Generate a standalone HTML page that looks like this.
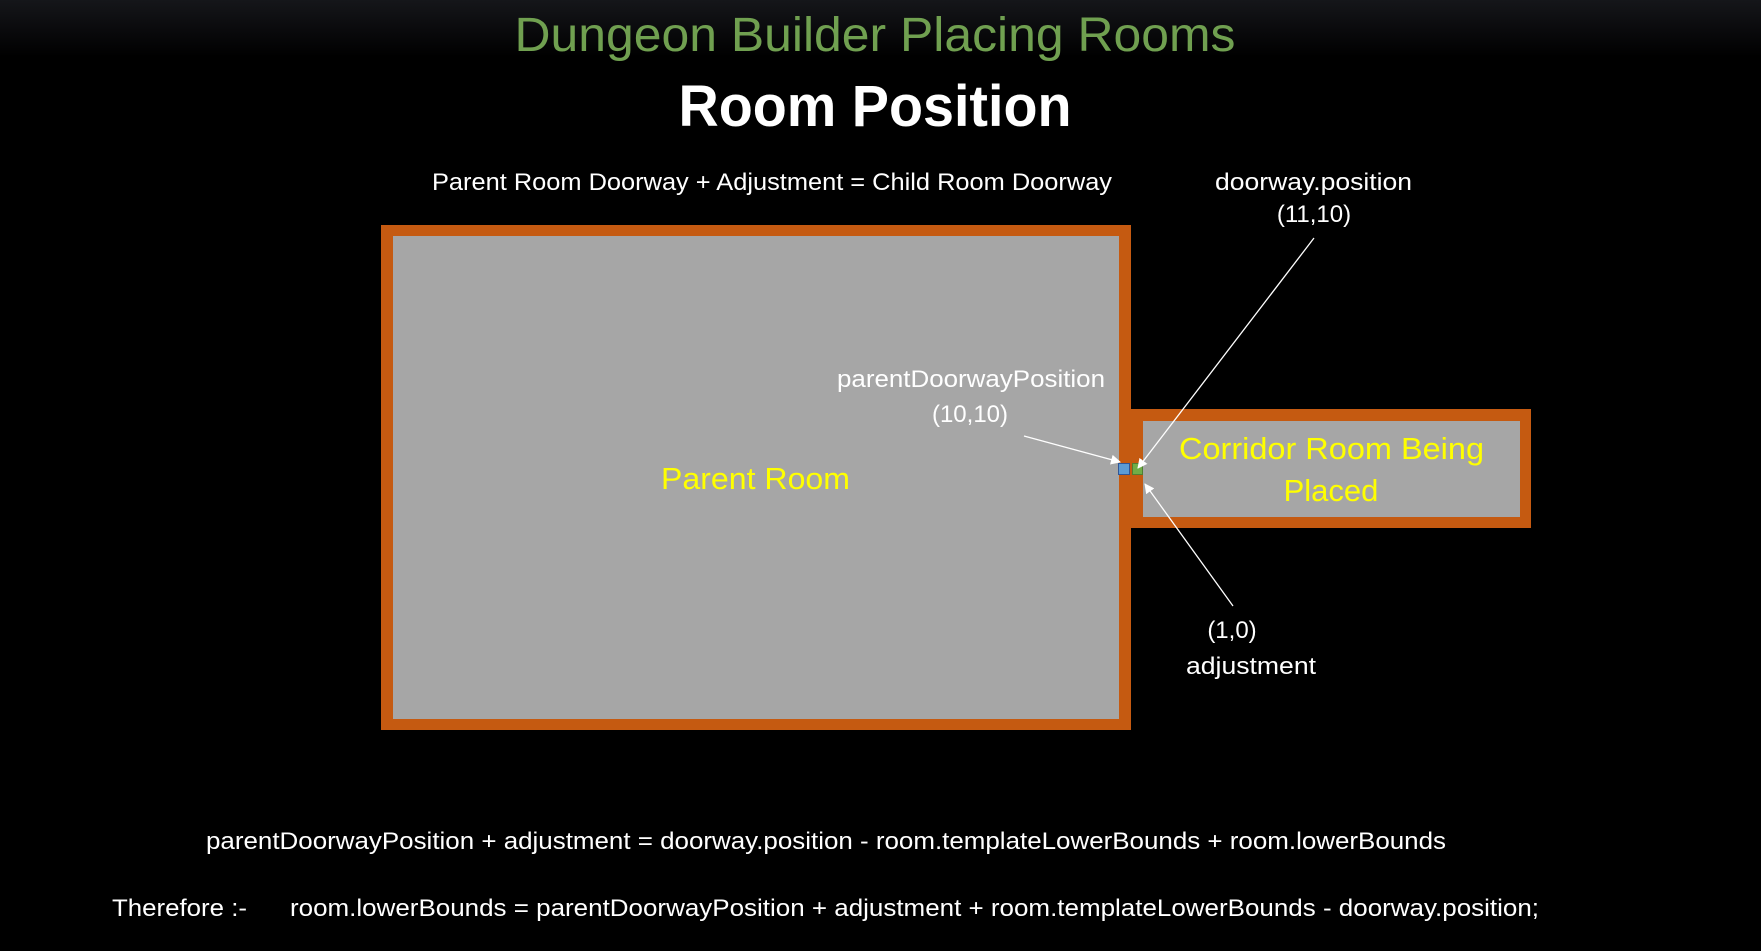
<!DOCTYPE html>
<html><head><meta charset="utf-8"><style>
html,body{margin:0;padding:0;background:#000;}
svg{display:block}
</style></head><body>
<svg width="1761" height="951" viewBox="0 0 1761 951" xmlns="http://www.w3.org/2000/svg">
<defs>
<linearGradient id="bg" x1="0" y1="0" x2="0" y2="1">
<stop offset="0" stop-color="#15161a"/><stop offset="0.06" stop-color="#000"/><stop offset="1" stop-color="#000"/>
</linearGradient>
<marker id="ah" markerWidth="10" markerHeight="10" refX="9" refY="5" orient="auto" markerUnits="userSpaceOnUse">
<path d="M0,0 L10,5 L0,10 z" fill="#fff"/>
</marker>
</defs>
<rect width="1761" height="951" fill="url(#bg)"/>
<!-- parent room -->
<rect x="381" y="225" width="750" height="505" fill="#c55a11"/>
<rect x="393" y="236" width="726" height="483" fill="#a6a6a6"/>
<!-- corridor -->
<rect x="1131" y="409" width="400" height="119" fill="#c55a11"/>
<rect x="1143" y="421" width="377" height="96" fill="#a6a6a6"/>
<!-- squares -->
<rect x="1118.5" y="463.5" width="11" height="11" fill="#5b9bd5" stroke="#2f5597" stroke-width="1"/>
<rect x="1132.5" y="463.5" width="10" height="11" fill="#70ad47" stroke="#507e32" stroke-width="1"/>
<!-- arrows -->
<g stroke="#fff" stroke-width="1.3" fill="none">
<line x1="1024" y1="436" x2="1120" y2="462" marker-end="url(#ah)"/>
<line x1="1314" y1="238" x2="1138" y2="468" marker-end="url(#ah)"/>
<line x1="1233" y1="606" x2="1145" y2="484" marker-end="url(#ah)"/>
</g>
<g font-family="'Liberation Sans', sans-serif">
<text x="875" y="51" font-size="48" fill="#70a050" text-anchor="middle" textLength="721" lengthAdjust="spacingAndGlyphs">Dungeon Builder Placing Rooms</text>
<text x="875" y="126" font-size="58" font-weight="bold" fill="#fff" text-anchor="middle" textLength="393" lengthAdjust="spacingAndGlyphs">Room Position</text>
<g fill="#fff" font-size="24">
<text x="432" y="190" textLength="680" lengthAdjust="spacingAndGlyphs">Parent Room Doorway + Adjustment = Child Room Doorway</text>
<text x="1215" y="190" textLength="197" lengthAdjust="spacingAndGlyphs">doorway.position</text>
<text x="1314" y="222" text-anchor="middle">(11,10)</text>
<text x="837" y="387" textLength="268" lengthAdjust="spacingAndGlyphs">parentDoorwayPosition</text>
<text x="970" y="422" text-anchor="middle">(10,10)</text>
<text x="1232" y="638" text-anchor="middle">(1,0)</text>
<text x="1186" y="674" textLength="130" lengthAdjust="spacingAndGlyphs">adjustment</text>
<text x="206" y="849" textLength="1240" lengthAdjust="spacingAndGlyphs">parentDoorwayPosition + adjustment = doorway.position - room.templateLowerBounds + room.lowerBounds</text>
<text x="112" y="916" textLength="135" lengthAdjust="spacingAndGlyphs">Therefore :-</text>
<text x="290" y="916" textLength="1249" lengthAdjust="spacingAndGlyphs">room.lowerBounds = parentDoorwayPosition + adjustment + room.templateLowerBounds - doorway.position;</text>
</g>
<g fill="#ffff00" font-size="31">
<text x="661" y="489" textLength="189" lengthAdjust="spacingAndGlyphs">Parent Room</text>
<text x="1179" y="459" textLength="305" lengthAdjust="spacingAndGlyphs">Corridor Room Being</text>
<text x="1331" y="501" text-anchor="middle">Placed</text>
</g>
</g>
</svg>
</body></html>
